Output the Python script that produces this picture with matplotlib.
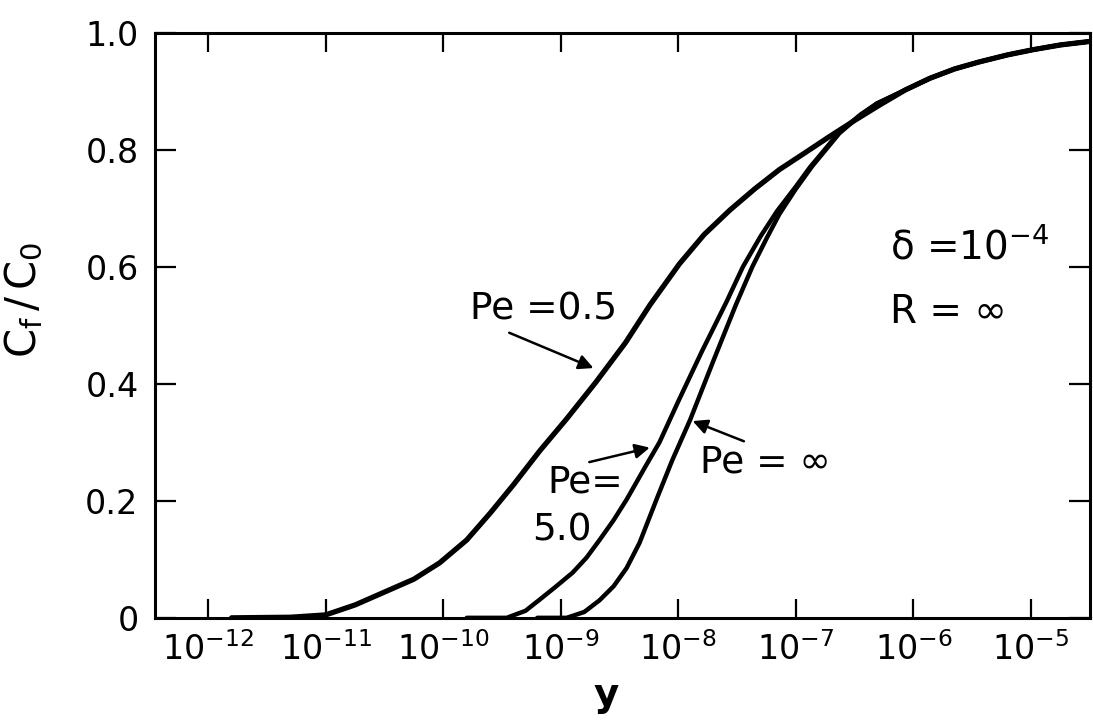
import numpy as np
import matplotlib
matplotlib.use("Agg")
import matplotlib.pyplot as plt
from matplotlib.ticker import FixedLocator, FixedFormatter

plt.rcParams['font.family'] = ['DejaVu Sans']
plt.rcParams['mathtext.fontset'] = 'dejavusans'

# log10(y) and Cf/C0
logy_05 = [-11.8, -11.3, -11.0, -10.75, -10.5, -10.25, -10.03, -9.8, -9.6, -9.4,
           -9.18, -8.95, -8.7, -8.45, -8.24, -7.99, -7.78, -7.56, -7.35, -7.14,
           -6.92, -6.71, -6.5, -6.29, -6.07, -5.86, -5.65, -5.44, -5.2, -4.98,
           -4.75, -4.5]
cf_05 = [0.0, 0.001, 0.005, 0.022, 0.044, 0.066, 0.094, 0.133, 0.179, 0.228,
         0.285, 0.340, 0.403, 0.470, 0.535, 0.605, 0.655, 0.697, 0.733, 0.766,
         0.795, 0.823, 0.850, 0.876, 0.902, 0.922, 0.938, 0.950, 0.962, 0.971,
         0.979, 0.985]

logy_5 = [-9.8, -9.46, -9.3, -9.18, -9.05, -8.9, -8.78, -8.67, -8.55, -8.44,
          -8.27, -8.16, -8.0, -7.8, -7.59, -7.45, -7.3, -7.16, -7.0, -6.88,
          -6.63, -6.45, -6.31, -6.07, -5.86, -5.65, -5.44, -5.2, -4.98, -4.75, -4.5]
cf_5 = [0.0, 0.0, 0.012, 0.031, 0.052, 0.077, 0.103, 0.133, 0.167, 0.202,
        0.262, 0.300, 0.370, 0.455, 0.540, 0.600, 0.652, 0.695, 0.737, 0.770,
        0.830, 0.860, 0.879, 0.902, 0.922, 0.938, 0.950, 0.962, 0.971, 0.979, 0.985]

logy_inf = [-9.2, -8.95, -8.8, -8.67, -8.55, -8.44, -8.33, -8.18, -8.05, -7.9,
            -7.7, -7.51, -7.37, -7.25, -7.14, -7.0, -6.86, -6.63, -6.45, -6.31,
            -6.07, -5.86, -5.65, -5.44, -5.2, -4.98, -4.75, -4.5]
cf_inf = [0.0, 0.0, 0.010, 0.030, 0.054, 0.085, 0.128, 0.205, 0.270, 0.338,
          0.440, 0.535, 0.600, 0.648, 0.690, 0.733, 0.772, 0.828, 0.859, 0.879,
          0.902, 0.922, 0.938, 0.950, 0.962, 0.971, 0.979, 0.985]

xtick_exp = [-12, -11, -10, -9, -8, -7, -6, -5]
xtick_labels = ['$10^{-12}$', '$10^{-11}$', '$10^{-10}$', '$10^{-9}$',
                '$10^{-8}$', '$10^{-7}$', '$10^{-6}$', '$10^{-5}$']
ytick_vals = [0, 0.2, 0.4, 0.6, 0.8, 1.0]
ytick_labels = ['0', '0.2', '0.4', '0.6', '0.8', '1.0']

fig = plt.figure(figsize=(10.93, 7.26), dpi=100)
ax = fig.add_axes([0.142, 0.149, 0.855, 0.806])

for lx, c, lw in [(logy_05, cf_05, 3.8), (logy_5, cf_5, 3.2), (logy_inf, cf_inf, 3.2)]:
    ax.plot(10.0 ** np.array(lx), c, color='black', lw=lw,
            solid_capstyle='round', solid_joinstyle='round')

ax.set_xscale('log')
ax.set_xlim(10 ** -12.45, 10 ** -4.5)
ax.set_ylim(0, 1.0)

ax.xaxis.set_major_locator(FixedLocator([10.0 ** e for e in xtick_exp]))
ax.xaxis.set_major_formatter(FixedFormatter(xtick_labels))
ax.xaxis.set_minor_locator(FixedLocator([]))
ax.yaxis.set_major_locator(FixedLocator(ytick_vals))
ax.yaxis.set_major_formatter(FixedFormatter(ytick_labels))

ax.tick_params(axis='x', which='major', direction='in', length=14, width=1.6,
               top=True, labelsize=24, pad=10)
ax.tick_params(axis='y', which='major', direction='in', length=15, width=1.6,
               right=True, labelsize=24, pad=12)
for s in ax.spines.values():
    s.set_linewidth(2.2)

ax.set_xlabel('y', fontsize=28, fontweight='bold')
ax.xaxis.set_label_coords(0.483, -0.10)
ax.set_ylabel(r'$\mathregular{C_f\,/\,C_0}$', fontsize=30)
ax.yaxis.set_label_coords(-0.118, 0.544)

# annotations
arrow = dict(arrowstyle='-|>', color='black', lw=1.8, mutation_scale=22)
ax.text(10 ** -9.15, 0.527, 'Pe =0.5', fontsize=27, ha='center', va='center')
ax.annotate('', xy=(10 ** -8.70, 0.425), xytext=(10 ** -9.46, 0.489), arrowprops=arrow)
ax.text(10 ** -8.79, 0.231, 'Pe=', fontsize=27, ha='center', va='center')
ax.text(10 ** -8.99, 0.150, '5.0', fontsize=27, ha='center', va='center')
ax.annotate('', xy=(10 ** -8.22, 0.292), xytext=(10 ** -8.78, 0.265), arrowprops=arrow)
ax.text(10 ** -7.26, 0.265, 'Pe = \u221e', fontsize=27, ha='center', va='center')
ax.annotate('', xy=(10 ** -7.90, 0.338), xytext=(10 ** -7.42, 0.300), arrowprops=arrow)
ax.text(10 ** -6.20, 0.634, '\u03b4 =$10^{-4}$', fontsize=28, ha='left', va='center')
ax.text(10 ** -6.20, 0.523, 'R = \u221e', fontsize=28, ha='left', va='center')

fig.savefig('out.png', dpi=100)
